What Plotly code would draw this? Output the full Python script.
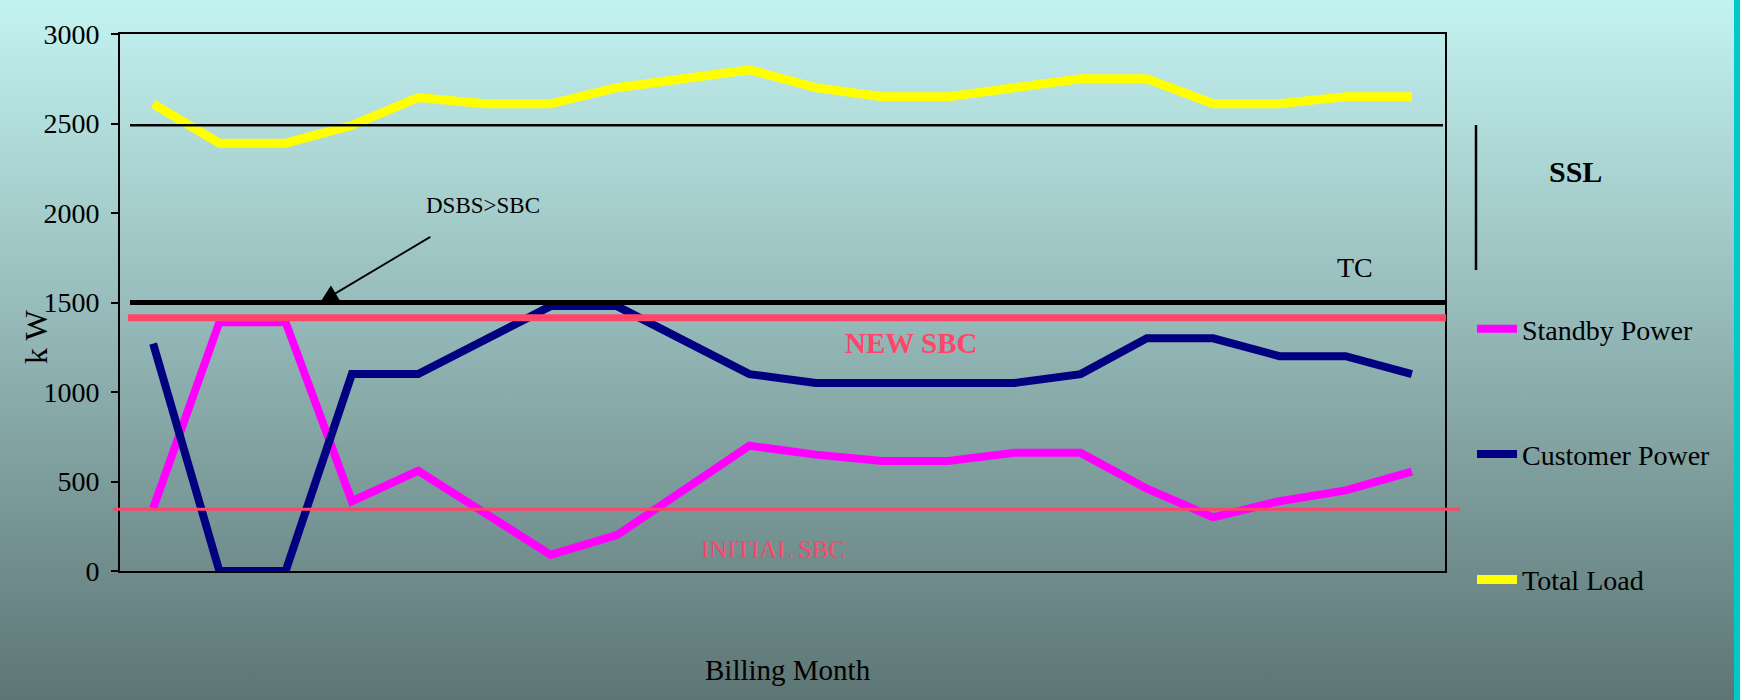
import base64
import plotly.graph_objects as go

# ---- data -------------------------------------------------------------
months = list(range(1, 21))
standby_power = [350, 1390, 1390, 390, 560, 325, 90, 200, 450, 700,
                 650, 615, 615, 660, 660, 460, 300, 390, 450, 555]
customer_power = [1270, 0, 0, 1100, 1100, 1290, 1480, 1480, 1290, 1100,
                  1050, 1050, 1050, 1050, 1100, 1300, 1300, 1200, 1200, 1100]
total_load = [2610, 2390, 2390, 2490, 2645, 2610, 2610, 2700, 2750, 2800,
              2700, 2650, 2650, 2700, 2750, 2750, 2610, 2610, 2650, 2650]
y_ticks = [0, 500, 1000, 1500, 2000, 2500, 3000]

ssl_level = 2490      # start of the SSL band
tc_level = 1500       # TC
new_sbc = 1415        # new standby capacity
initial_sbc = 345     # initial standby capacity

# ---- page geometry (pixels) -------------------------------------------
W, H = 1740, 700
L, R, T, B = 120, 1445, 34, 571


def px(x):
    return (x - L) / (R - L)


def py(y):
    return (B - y) / (B - T)


SERIF = "Liberation Serif, Times New Roman, serif"
SBC_RED = "#FF4569"

fig = go.Figure()
fig.add_trace(go.Scatter(x=months, y=standby_power, mode="lines", name="Standby Power",
                         legendgroup="a", line=dict(color="#FF00FF", width=8)))
fig.add_trace(go.Scatter(x=months, y=customer_power, mode="lines", name="Customer Power",
                         legendgroup="b", line=dict(color="#000080", width=8)))
fig.add_trace(go.Scatter(x=months, y=total_load, mode="lines", name="Total Load",
                         legendgroup="c", line=dict(color="#FFFF00", width=9)))

# vertical gradient backdrop
bg_svg = ('<svg xmlns="http://www.w3.org/2000/svg" width="10" height="100" '
          'viewBox="0 0 10 100" preserveAspectRatio="none">'
          '<defs><linearGradient id="g" x1="0" y1="0" x2="0" y2="1">'
          '<stop offset="0" stop-color="#C3F3F1"/>'
          '<stop offset="1" stop-color="#5D7575"/>'
          '</linearGradient></defs>'
          '<rect width="10" height="100" fill="url(#g)"/></svg>')
bg_src = "data:image/svg+xml;base64," + base64.b64encode(bg_svg.encode()).decode()

shapes = [
    # SSL start line
    dict(type="line", xref="paper", yref="y", x0=px(130), x1=px(1443),
         y0=ssl_level, y1=ssl_level, line=dict(color="black", width=2.5), layer="above"),
    # TC line
    dict(type="line", xref="paper", yref="y", x0=px(130), x1=px(1446),
         y0=tc_level, y1=tc_level, line=dict(color="black", width=5), layer="above"),
    # new SBC
    dict(type="line", xref="paper", yref="y", x0=px(128), x1=px(1446),
         y0=new_sbc, y1=new_sbc, line=dict(color=SBC_RED, width=7), layer="above"),
    # initial SBC
    dict(type="line", xref="paper", yref="y", x0=px(113), x1=px(1460),
         y0=initial_sbc, y1=initial_sbc, line=dict(color=SBC_RED, width=3), layer="above"),
    # SSL bracket
    dict(type="line", xref="paper", yref="paper", x0=px(1476), x1=px(1476),
         y0=py(125), y1=py(270), line=dict(color="black", width=2.5), layer="above"),
    # right edge stripe
    dict(type="rect", xref="paper", yref="paper", x0=px(1734), x1=px(1741),
         y0=py(0), y1=py(701), line=dict(width=0), fillcolor="#00C9C9", layer="above"),
]


def label(x, y, text, size, color="black", angle=0):
    return dict(x=px(x), y=py(y), xref="paper", yref="paper", showarrow=False,
                xanchor="center", yanchor="middle", text=text, textangle=angle,
                font=dict(family=SERIF, size=size, color=color))


annotations = [
    dict(x=3.52, y=tc_level, xref="x", yref="y", ax=163, ay=-97,
         text="DSBS&gt;SBC", showarrow=True, arrowhead=2, arrowsize=2,
         arrowwidth=1.8, arrowcolor="black", standoff=0, startstandoff=34,
         font=dict(family=SERIF, size=23, color="black")),
    label(911, 343, "<b>NEW SBC</b>", 29, SBC_RED),
    label(773, 549, "INITIAL SBC", 25, SBC_RED),
    label(1355, 267, "TC", 28),
    label(1575, 172, "<b>SSL</b>", 30),
    label(788, 670, "Billing Month", 29),
    label(36, 337, "k W", 32, angle=-90),
]

fig.update_layout(
    width=W, height=H,
    margin=dict(l=L, r=W - R, t=T, b=H - B, pad=0),
    paper_bgcolor="#93B6B5",
    plot_bgcolor="rgba(0,0,0,0)",
    images=[dict(source=bg_src, xref="paper", yref="paper",
                 x=px(0), y=py(0), sizex=W / (R - L), sizey=H / (B - T),
                 xanchor="left", yanchor="top", sizing="stretch", layer="below")],
    shapes=shapes,
    annotations=annotations,
    showlegend=True,
    legend=dict(x=px(1472), y=py(304), xanchor="left", yanchor="top",
                font=dict(family=SERIF, size=28, color="black"),
                bgcolor="rgba(0,0,0,0)", tracegroupgap=86, itemwidth=40,
                traceorder="grouped"),
    xaxis=dict(range=[0.5, 20.5], showticklabels=False, ticks="",
               showline=True, linecolor="black", linewidth=2, mirror=True,
               showgrid=False, zeroline=False),
    yaxis=dict(range=[0, 3000], tickvals=y_ticks, ticks="outside", ticklen=7,
               tickwidth=2, tickcolor="black", showline=True, linecolor="black",
               linewidth=2, mirror=True, showgrid=False, zeroline=False,
               ticklabelstandoff=6,
               tickfont=dict(family=SERIF, size=28, color="black")),
)

fig.write_html("out.html")
